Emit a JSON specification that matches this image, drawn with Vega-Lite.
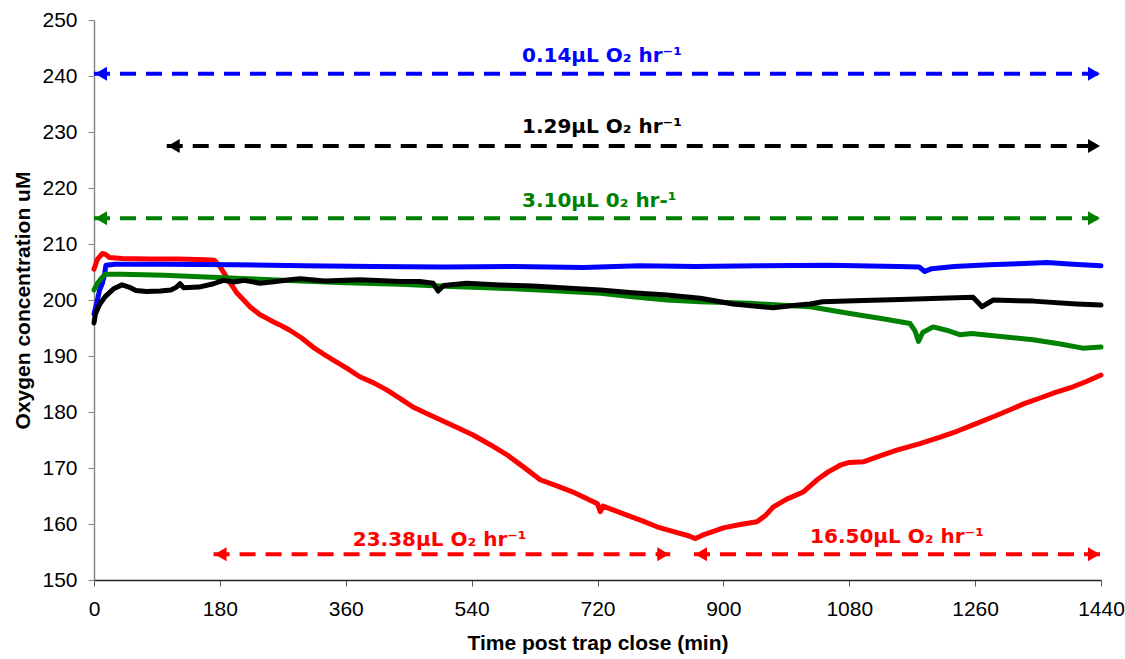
{
  "$schema": "https://vega.github.io/schema/vega-lite/v6.json",
  "width": 1007,
  "height": 560,
  "autosize": {"type": "none"},
  "padding": {"left": 94, "top": 20, "right": 24, "bottom": 79},
  "background": "white",
  "config": {
    "view": {"stroke": null},
    "axis": {"grid": false},
    "axisX": {
      "labelFont": "Liberation Sans", "labelFontSize": 21, "labelColor": "#000", "labelPadding": 12, "labelFlush": false, "labelOverlap": false,
      "tickSize": 6, "tickColor": "#555", "domainColor": "#222", "domainWidth": 1.5,
      "titleFont": "Liberation Sans", "titleFontSize": 21, "titleFontWeight": "bold", "titleColor": "#000", "titlePadding": 13},
    "axisY": {
      "labelFont": "Liberation Sans", "labelFontSize": 21, "labelColor": "#000", "labelPadding": 11, "labelFlush": false, "labelOverlap": false,
      "tickSize": 6, "tickColor": "#888", "domainColor": "#888", "domainWidth": 1.5,
      "titleFont": "Liberation Sans", "titleFontSize": 21, "titleFontWeight": "bold", "titleColor": "#000", "titlePadding": 8}
  },
  "datasets": {
    "series": [
      {"s":"red","t":0,"v":205.5},{"s":"red","t":5,"v":207.3},{"s":"red","t":12,"v":208.3},{"s":"red","t":16,"v":208.2},{"s":"red","t":22,"v":207.6},{"s":"red","t":40,"v":207.4},{"s":"red","t":80,"v":207.3},{"s":"red","t":120,"v":207.3},{"s":"red","t":160,"v":207.2},{"s":"red","t":172,"v":207.1},{"s":"red","t":180,"v":206.0},{"s":"red","t":186,"v":204.8},{"s":"red","t":195,"v":203.0},{"s":"red","t":204,"v":201.3},{"s":"red","t":214,"v":200.0},{"s":"red","t":223,"v":198.8},{"s":"red","t":237,"v":197.4},{"s":"red","t":252,"v":196.4},{"s":"red","t":265,"v":195.6},{"s":"red","t":280,"v":194.6},{"s":"red","t":296,"v":193.3},{"s":"red","t":313,"v":191.6},{"s":"red","t":330,"v":190.2},{"s":"red","t":347,"v":188.9},{"s":"red","t":363,"v":187.7},{"s":"red","t":380,"v":186.3},{"s":"red","t":400,"v":185.2},{"s":"red","t":419,"v":183.9},{"s":"red","t":438,"v":182.4},{"s":"red","t":456,"v":180.9},{"s":"red","t":478,"v":179.6},{"s":"red","t":499,"v":178.4},{"s":"red","t":520,"v":177.2},{"s":"red","t":542,"v":175.9},{"s":"red","t":566,"v":174.2},{"s":"red","t":590,"v":172.4},{"s":"red","t":614,"v":170.2},{"s":"red","t":638,"v":167.9},{"s":"red","t":660,"v":166.9},{"s":"red","t":685,"v":165.7},{"s":"red","t":705,"v":164.5},{"s":"red","t":720,"v":163.6},{"s":"red","t":724,"v":162.2},{"s":"red","t":728,"v":163.2},{"s":"red","t":745,"v":162.4},{"s":"red","t":762,"v":161.6},{"s":"red","t":785,"v":160.5},{"s":"red","t":805,"v":159.5},{"s":"red","t":830,"v":158.6},{"s":"red","t":850,"v":157.9},{"s":"red","t":860,"v":157.4},{"s":"red","t":870,"v":158.0},{"s":"red","t":891,"v":158.9},{"s":"red","t":900,"v":159.3},{"s":"red","t":924,"v":159.9},{"s":"red","t":948,"v":160.4},{"s":"red","t":960,"v":161.5},{"s":"red","t":971,"v":163.0},{"s":"red","t":990,"v":164.4},{"s":"red","t":1014,"v":165.7},{"s":"red","t":1034,"v":167.9},{"s":"red","t":1050,"v":169.3},{"s":"red","t":1067,"v":170.5},{"s":"red","t":1080,"v":171.0},{"s":"red","t":1100,"v":171.1},{"s":"red","t":1125,"v":172.2},{"s":"red","t":1148,"v":173.2},{"s":"red","t":1180,"v":174.3},{"s":"red","t":1210,"v":175.5},{"s":"red","t":1235,"v":176.6},{"s":"red","t":1257,"v":177.7},{"s":"red","t":1285,"v":179.1},{"s":"red","t":1310,"v":180.4},{"s":"red","t":1330,"v":181.5},{"s":"red","t":1353,"v":182.5},{"s":"red","t":1375,"v":183.5},{"s":"red","t":1400,"v":184.5},{"s":"red","t":1420,"v":185.5},{"s":"red","t":1440,"v":186.6},
      {"s":"blue","t":0,"v":197.5},{"s":"blue","t":4,"v":199.5},{"s":"blue","t":8,"v":201.8},{"s":"blue","t":12,"v":203.0},{"s":"blue","t":15,"v":204.5},{"s":"blue","t":17,"v":206.2},{"s":"blue","t":30,"v":206.4},{"s":"blue","t":100,"v":206.4},{"s":"blue","t":200,"v":206.3},{"s":"blue","t":300,"v":206.1},{"s":"blue","t":400,"v":206.0},{"s":"blue","t":500,"v":205.9},{"s":"blue","t":600,"v":206.0},{"s":"blue","t":700,"v":205.8},{"s":"blue","t":780,"v":206.1},{"s":"blue","t":860,"v":206.0},{"s":"blue","t":950,"v":206.1},{"s":"blue","t":1050,"v":206.2},{"s":"blue","t":1150,"v":206.0},{"s":"blue","t":1180,"v":205.9},{"s":"blue","t":1188,"v":205.1},{"s":"blue","t":1198,"v":205.6},{"s":"blue","t":1230,"v":206.0},{"s":"blue","t":1280,"v":206.3},{"s":"blue","t":1330,"v":206.5},{"s":"blue","t":1363,"v":206.7},{"s":"blue","t":1400,"v":206.4},{"s":"blue","t":1440,"v":206.1},
      {"s":"green","t":0,"v":201.8},{"s":"green","t":5,"v":203.0},{"s":"green","t":10,"v":203.8},{"s":"green","t":16,"v":204.6},{"s":"green","t":40,"v":204.6},{"s":"green","t":100,"v":204.4},{"s":"green","t":160,"v":204.1},{"s":"green","t":220,"v":203.8},{"s":"green","t":295,"v":203.4},{"s":"green","t":360,"v":203.1},{"s":"green","t":438,"v":202.8},{"s":"green","t":510,"v":202.4},{"s":"green","t":581,"v":202.1},{"s":"green","t":650,"v":201.7},{"s":"green","t":724,"v":201.2},{"s":"green","t":770,"v":200.6},{"s":"green","t":819,"v":200.0},{"s":"green","t":867,"v":199.7},{"s":"green","t":938,"v":199.4},{"s":"green","t":1024,"v":198.8},{"s":"green","t":1081,"v":197.6},{"s":"green","t":1130,"v":196.6},{"s":"green","t":1167,"v":195.8},{"s":"green","t":1174,"v":194.5},{"s":"green","t":1179,"v":192.6},{"s":"green","t":1185,"v":194.2},{"s":"green","t":1200,"v":195.2},{"s":"green","t":1219,"v":194.6},{"s":"green","t":1238,"v":193.8},{"s":"green","t":1255,"v":194.0},{"s":"green","t":1272,"v":193.8},{"s":"green","t":1343,"v":192.9},{"s":"green","t":1380,"v":192.2},{"s":"green","t":1414,"v":191.4},{"s":"green","t":1440,"v":191.6},
      {"s":"black","t":0,"v":195.9},{"s":"black","t":2,"v":197.5},{"s":"black","t":8,"v":199.2},{"s":"black","t":16,"v":200.6},{"s":"black","t":28,"v":202.0},{"s":"black","t":40,"v":202.7},{"s":"black","t":50,"v":202.3},{"s":"black","t":60,"v":201.7},{"s":"black","t":75,"v":201.5},{"s":"black","t":95,"v":201.6},{"s":"black","t":110,"v":201.8},{"s":"black","t":118,"v":202.3},{"s":"black","t":123,"v":202.9},{"s":"black","t":128,"v":202.2},{"s":"black","t":150,"v":202.3},{"s":"black","t":171,"v":202.9},{"s":"black","t":185,"v":203.5},{"s":"black","t":200,"v":203.2},{"s":"black","t":215,"v":203.5},{"s":"black","t":237,"v":203.0},{"s":"black","t":260,"v":203.3},{"s":"black","t":280,"v":203.6},{"s":"black","t":295,"v":203.8},{"s":"black","t":330,"v":203.4},{"s":"black","t":380,"v":203.6},{"s":"black","t":438,"v":203.3},{"s":"black","t":466,"v":203.3},{"s":"black","t":485,"v":203.0},{"s":"black","t":492,"v":201.6},{"s":"black","t":500,"v":202.6},{"s":"black","t":533,"v":203.0},{"s":"black","t":580,"v":202.7},{"s":"black","t":628,"v":202.5},{"s":"black","t":680,"v":202.1},{"s":"black","t":724,"v":201.8},{"s":"black","t":770,"v":201.3},{"s":"black","t":819,"v":200.9},{"s":"black","t":867,"v":200.3},{"s":"black","t":914,"v":199.3},{"s":"black","t":971,"v":198.6},{"s":"black","t":1000,"v":199.0},{"s":"black","t":1024,"v":199.3},{"s":"black","t":1042,"v":199.7},{"s":"black","t":1100,"v":199.9},{"s":"black","t":1153,"v":200.1},{"s":"black","t":1210,"v":200.3},{"s":"black","t":1257,"v":200.5},{"s":"black","t":1270,"v":198.8},{"s":"black","t":1286,"v":200.0},{"s":"black","t":1343,"v":199.8},{"s":"black","t":1405,"v":199.3},{"s":"black","t":1440,"v":199.1}
    ],
    "arrows": [
      {"s":"blue","t":0,"t2":1440,"v":240.4},
      {"s":"black","t":104,"t2":1440,"v":227.5},
      {"s":"green","t":0,"t2":1440,"v":214.6},
      {"s":"red","t":171,"t2":824,"v":154.6},
      {"s":"red","t":858,"t2":1440,"v":154.6}
    ],
    "labels": [
      {"s":"blue","t":612,"v":242.5,"text":"0.14µL O₂ hr⁻¹"},
      {"s":"black","t":612,"v":229.8,"text":"1.29µL O₂ hr⁻¹"},
      {"s":"green","t":612,"v":216.6,"text":"3.10µL 0₂ hr-¹"},
      {"s":"red","t":370,"v":156.1,"text":"23.38µL O₂ hr⁻¹"},
      {"s":"red","t":1024,"v":156.6,"text":"16.50µL O₂ hr⁻¹"}
    ]
  },
  "layer": [
    {
      "data": {"name": "series"},
      "transform": [{"filter": "datum.s === 'red'"}],
      "mark": {"type": "line", "strokeWidth": 5, "strokeJoin": "round", "strokeCap": "round"},
      "encoding": {
        "x": {"field": "t", "type": "quantitative", "title": "Time post trap close (min)", "scale": {"domain": [0, 1440], "nice": false, "zero": false},
          "axis": {"values": [0,180,360,540,720,900,1080,1260,1440], "format": "d"}},
        "y": {"field": "v", "type": "quantitative", "title": "Oxygen concentration uM", "scale": {"domain": [150, 250], "nice": false, "zero": false},
          "axis": {"values": [150,160,170,180,190,200,210,220,230,240,250], "format": "d"}},
        "color": {"field": "s", "type": "nominal", "scale": {"domain": ["red","blue","green","black"], "range": ["#FF0000","#0000FF","#008000","#000000"]}, "legend": null}
      }
    },
    {
      "data": {"name": "series"},
      "transform": [{"filter": "datum.s === 'blue'"}],
      "mark": {"type": "line", "strokeWidth": 5, "strokeJoin": "round", "strokeCap": "round"},
      "encoding": {
        "x": {"field": "t", "type": "quantitative", "title": "Time post trap close (min)"},
        "y": {"field": "v", "type": "quantitative", "title": "Oxygen concentration uM"},
        "color": {"field": "s", "type": "nominal", "legend": null}
      }
    },
    {
      "data": {"name": "series"},
      "transform": [{"filter": "datum.s === 'green'"}],
      "mark": {"type": "line", "strokeWidth": 5, "strokeJoin": "round", "strokeCap": "round"},
      "encoding": {
        "x": {"field": "t", "type": "quantitative", "title": "Time post trap close (min)"},
        "y": {"field": "v", "type": "quantitative", "title": "Oxygen concentration uM"},
        "color": {"field": "s", "type": "nominal", "legend": null}
      }
    },
    {
      "data": {"name": "series"},
      "transform": [{"filter": "datum.s === 'black'"}],
      "mark": {"type": "line", "strokeWidth": 5, "strokeJoin": "round", "strokeCap": "round"},
      "encoding": {
        "x": {"field": "t", "type": "quantitative", "title": "Time post trap close (min)"},
        "y": {"field": "v", "type": "quantitative", "title": "Oxygen concentration uM"},
        "color": {"field": "s", "type": "nominal", "legend": null}
      }
    },
    {
      "data": {"name": "arrows"},
      "mark": {"type": "rule", "strokeWidth": 4, "strokeDash": [16, 10]},
      "encoding": {
        "x": {"field": "t", "type": "quantitative", "title": "Time post trap close (min)"},
        "x2": {"field": "t2"},
        "y": {"field": "v", "type": "quantitative", "title": "Oxygen concentration uM"},
        "color": {"field": "s", "type": "nominal", "legend": null}
      }
    },
    {
      "data": {"name": "arrows"},
      "mark": {"type": "point", "shape": "triangle-left", "size": 190, "filled": true, "opacity": 1, "xOffset": 7},
      "encoding": {
        "x": {"field": "t", "type": "quantitative", "title": "Time post trap close (min)"},
        "y": {"field": "v", "type": "quantitative", "title": "Oxygen concentration uM"},
        "color": {"field": "s", "type": "nominal", "legend": null}
      }
    },
    {
      "data": {"name": "arrows"},
      "mark": {"type": "point", "shape": "triangle-right", "size": 190, "filled": true, "opacity": 1, "xOffset": -7},
      "encoding": {
        "x": {"field": "t2", "type": "quantitative", "title": "Time post trap close (min)"},
        "y": {"field": "v", "type": "quantitative", "title": "Oxygen concentration uM"},
        "color": {"field": "s", "type": "nominal", "legend": null}
      }
    },
    {
      "data": {"name": "labels"},
      "mark": {"type": "text", "align": "left", "baseline": "alphabetic", "font": "DejaVu Sans", "fontWeight": "bold", "fontSize": 20},
      "encoding": {
        "x": {"field": "t", "type": "quantitative", "title": "Time post trap close (min)"},
        "y": {"field": "v", "type": "quantitative", "title": "Oxygen concentration uM"},
        "text": {"field": "text"},
        "color": {"field": "s", "type": "nominal", "legend": null}
      }
    }
  ]
}
